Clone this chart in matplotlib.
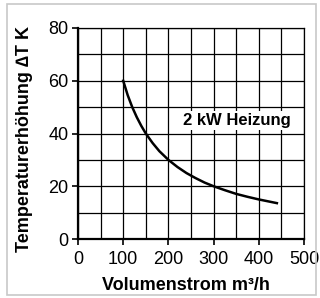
import numpy as np
import matplotlib
matplotlib.use('Agg')
import matplotlib.pyplot as plt
from matplotlib.patches import Rectangle

plt.rcParams.update({
    'font.family': ['Liberation Sans', 'DejaVu Sans'],
    'font.size': 13,
})

# curve data
flow = [100, 110, 120, 130, 140, 150, 165, 180, 200, 220, 240, 260, 280,
        300, 325, 350, 375, 400, 420, 440]
delta_t = [60, 54.5, 50, 46.2, 42.9, 40, 36.4, 33.3, 30, 27.3, 25, 23.1, 21.4,
           20, 18.5, 17.1, 16, 15, 14.3, 13.6]

x_ticks = [0, 100, 200, 300, 400, 500]
y_ticks = [0, 20, 40, 60, 80]

fig = plt.figure(figsize=(3.2, 2.98), dpi=100)
ax = fig.add_axes([78 / 320, 1 - 239 / 298, 226 / 320, 211 / 298])

# light frame round the whole picture
fig.patches.append(Rectangle((7 / 320, 1 - 295 / 298), 309 / 320, 291 / 298,
                             transform=fig.transFigure, fill=False,
                             edgecolor='#c8c8c8', linewidth=1.2))

ax.plot(flow, delta_t, color='black', linewidth=1.8, zorder=3)

ax.set_xlim(0, 500)
ax.set_ylim(0, 80)
ax.set_xticks(x_ticks)
ax.set_yticks(y_ticks)
ax.set_xticks(np.arange(0, 501, 50), minor=True)
ax.set_yticks(np.arange(0, 81, 10), minor=True)
ax.grid(which='both', color='black', linewidth=0.9)
ax.tick_params(which='major', length=4, width=1.2, direction='out', labelsize=13)
ax.tick_params(axis='x', which='major', pad=5)
ax.tick_params(axis='y', which='major', pad=3)
ax.tick_params(which='minor', length=0)
for s in ['top', 'right']:
    ax.spines[s].set_linewidth(0.9)
for s in ['left', 'bottom']:
    ax.spines[s].set_linewidth(1.6)

ax.set_xlabel('Volumenstrom m³/h', fontweight='bold', fontsize=13)
ax.set_ylabel('Temperaturerhöhung ∆T K', fontweight='bold', fontsize=13)
ax.xaxis.set_label_coords((186 - 78) / 226, -(277 - 239) / 211)
ax.yaxis.set_label_coords(-(78 - 33) / 226, (239 - 139) / 211)

ax.text(352, 45, '2 kW Heizung', fontweight='bold', fontsize=12, ha='center', va='center',
        bbox=dict(facecolor='white', edgecolor='none', pad=1.5), zorder=4)

fig.savefig('out.png', dpi=100)
